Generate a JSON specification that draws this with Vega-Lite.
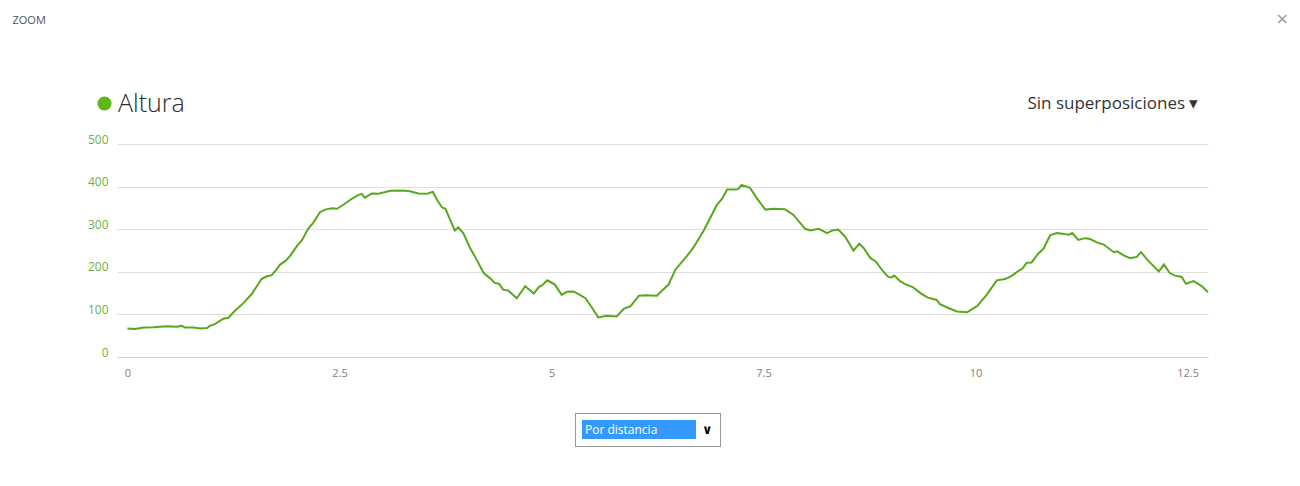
{
  "$schema": "https://vega.github.io/schema/vega-lite/v6.json",
  "width": 1091,
  "height": 213,
  "autosize": {"type": "none"},
  "padding": {"left": 117, "top": 144, "right": 92, "bottom": 129},
  "background": "white",
  "config": {
    "view": {"stroke": null},
    "font": "Open Sans"
  },
  "title": {
    "text": "×",
    "anchor": "end",
    "frame": "group",
    "orient": "top",
    "fontSize": 16,
    "fontWeight": "normal",
    "font": "DejaVu Sans",
    "color": "#9a9a9a",
    "dx": 81,
    "dy": 13,
    "offset": 0
  },
  "data": {
    "values": [
      {"distancia": 0.00, "altura": 67, "serie": "Altura", "vista": "Por distancia"},
      {"distancia": 0.09, "altura": 66, "serie": "Altura", "vista": "Por distancia"},
      {"distancia": 0.19, "altura": 69, "serie": "Altura", "vista": "Por distancia"},
      {"distancia": 0.31, "altura": 70, "serie": "Altura", "vista": "Por distancia"},
      {"distancia": 0.46, "altura": 72, "serie": "Altura", "vista": "Por distancia"},
      {"distancia": 0.58, "altura": 71, "serie": "Altura", "vista": "Por distancia"},
      {"distancia": 0.64, "altura": 73, "serie": "Altura", "vista": "Por distancia"},
      {"distancia": 0.68, "altura": 69, "serie": "Altura", "vista": "Por distancia"},
      {"distancia": 0.78, "altura": 69, "serie": "Altura", "vista": "Por distancia"},
      {"distancia": 0.86, "altura": 67, "serie": "Altura", "vista": "Por distancia"},
      {"distancia": 0.94, "altura": 68, "serie": "Altura", "vista": "Por distancia"},
      {"distancia": 0.97, "altura": 73, "serie": "Altura", "vista": "Por distancia"},
      {"distancia": 1.03, "altura": 77, "serie": "Altura", "vista": "Por distancia"},
      {"distancia": 1.13, "altura": 90, "serie": "Altura", "vista": "Por distancia"},
      {"distancia": 1.19, "altura": 92, "serie": "Altura", "vista": "Por distancia"},
      {"distancia": 1.25, "altura": 105, "serie": "Altura", "vista": "Por distancia"},
      {"distancia": 1.37, "altura": 127, "serie": "Altura", "vista": "Por distancia"},
      {"distancia": 1.47, "altura": 149, "serie": "Altura", "vista": "Por distancia"},
      {"distancia": 1.58, "altura": 183, "serie": "Altura", "vista": "Por distancia"},
      {"distancia": 1.64, "altura": 189, "serie": "Altura", "vista": "Por distancia"},
      {"distancia": 1.70, "altura": 192, "serie": "Altura", "vista": "Por distancia"},
      {"distancia": 1.74, "altura": 201, "serie": "Altura", "vista": "Por distancia"},
      {"distancia": 1.80, "altura": 217, "serie": "Altura", "vista": "Por distancia"},
      {"distancia": 1.86, "altura": 225, "serie": "Altura", "vista": "Por distancia"},
      {"distancia": 1.92, "altura": 238, "serie": "Altura", "vista": "Por distancia"},
      {"distancia": 2.00, "altura": 261, "serie": "Altura", "vista": "Por distancia"},
      {"distancia": 2.06, "altura": 275, "serie": "Altura", "vista": "Por distancia"},
      {"distancia": 2.13, "altura": 301, "serie": "Altura", "vista": "Por distancia"},
      {"distancia": 2.19, "altura": 315, "serie": "Altura", "vista": "Por distancia"},
      {"distancia": 2.27, "altura": 340, "serie": "Altura", "vista": "Por distancia"},
      {"distancia": 2.33, "altura": 346, "serie": "Altura", "vista": "Por distancia"},
      {"distancia": 2.41, "altura": 349, "serie": "Altura", "vista": "Por distancia"},
      {"distancia": 2.47, "altura": 348, "serie": "Altura", "vista": "Por distancia"},
      {"distancia": 2.55, "altura": 358, "serie": "Altura", "vista": "Por distancia"},
      {"distancia": 2.65, "altura": 372, "serie": "Altura", "vista": "Por distancia"},
      {"distancia": 2.72, "altura": 380, "serie": "Altura", "vista": "Por distancia"},
      {"distancia": 2.76, "altura": 383, "serie": "Altura", "vista": "Por distancia"},
      {"distancia": 2.80, "altura": 374, "serie": "Altura", "vista": "Por distancia"},
      {"distancia": 2.88, "altura": 384, "serie": "Altura", "vista": "Por distancia"},
      {"distancia": 2.96, "altura": 383, "serie": "Altura", "vista": "Por distancia"},
      {"distancia": 3.10, "altura": 390, "serie": "Altura", "vista": "Por distancia"},
      {"distancia": 3.25, "altura": 391, "serie": "Altura", "vista": "Por distancia"},
      {"distancia": 3.33, "altura": 389, "serie": "Altura", "vista": "Por distancia"},
      {"distancia": 3.43, "altura": 384, "serie": "Altura", "vista": "Por distancia"},
      {"distancia": 3.53, "altura": 383, "serie": "Altura", "vista": "Por distancia"},
      {"distancia": 3.60, "altura": 388, "serie": "Altura", "vista": "Por distancia"},
      {"distancia": 3.65, "altura": 369, "serie": "Altura", "vista": "Por distancia"},
      {"distancia": 3.71, "altura": 351, "serie": "Altura", "vista": "Por distancia"},
      {"distancia": 3.75, "altura": 348, "serie": "Altura", "vista": "Por distancia"},
      {"distancia": 3.80, "altura": 324, "serie": "Altura", "vista": "Por distancia"},
      {"distancia": 3.86, "altura": 297, "serie": "Altura", "vista": "Por distancia"},
      {"distancia": 3.90, "altura": 304, "serie": "Altura", "vista": "Por distancia"},
      {"distancia": 3.96, "altura": 291, "serie": "Altura", "vista": "Por distancia"},
      {"distancia": 4.04, "altura": 256, "serie": "Altura", "vista": "Por distancia"},
      {"distancia": 4.10, "altura": 235, "serie": "Altura", "vista": "Por distancia"},
      {"distancia": 4.20, "altura": 197, "serie": "Altura", "vista": "Por distancia"},
      {"distancia": 4.28, "altura": 184, "serie": "Altura", "vista": "Por distancia"},
      {"distancia": 4.33, "altura": 174, "serie": "Altura", "vista": "Por distancia"},
      {"distancia": 4.38, "altura": 172, "serie": "Altura", "vista": "Por distancia"},
      {"distancia": 4.43, "altura": 158, "serie": "Altura", "vista": "Por distancia"},
      {"distancia": 4.49, "altura": 156, "serie": "Altura", "vista": "Por distancia"},
      {"distancia": 4.59, "altura": 138, "serie": "Altura", "vista": "Por distancia"},
      {"distancia": 4.69, "altura": 166, "serie": "Altura", "vista": "Por distancia"},
      {"distancia": 4.79, "altura": 149, "serie": "Altura", "vista": "Por distancia"},
      {"distancia": 4.85, "altura": 164, "serie": "Altura", "vista": "Por distancia"},
      {"distancia": 4.90, "altura": 170, "serie": "Altura", "vista": "Por distancia"},
      {"distancia": 4.95, "altura": 180, "serie": "Altura", "vista": "Por distancia"},
      {"distancia": 5.04, "altura": 170, "serie": "Altura", "vista": "Por distancia"},
      {"distancia": 5.12, "altura": 146, "serie": "Altura", "vista": "Por distancia"},
      {"distancia": 5.18, "altura": 153, "serie": "Altura", "vista": "Por distancia"},
      {"distancia": 5.26, "altura": 154, "serie": "Altura", "vista": "Por distancia"},
      {"distancia": 5.34, "altura": 145, "serie": "Altura", "vista": "Por distancia"},
      {"distancia": 5.40, "altura": 138, "serie": "Altura", "vista": "Por distancia"},
      {"distancia": 5.48, "altura": 115, "serie": "Altura", "vista": "Por distancia"},
      {"distancia": 5.55, "altura": 93, "serie": "Altura", "vista": "Por distancia"},
      {"distancia": 5.65, "altura": 97, "serie": "Altura", "vista": "Por distancia"},
      {"distancia": 5.77, "altura": 95, "serie": "Altura", "vista": "Por distancia"},
      {"distancia": 5.85, "altura": 113, "serie": "Altura", "vista": "Por distancia"},
      {"distancia": 5.93, "altura": 119, "serie": "Altura", "vista": "Por distancia"},
      {"distancia": 6.03, "altura": 144, "serie": "Altura", "vista": "Por distancia"},
      {"distancia": 6.12, "altura": 145, "serie": "Altura", "vista": "Por distancia"},
      {"distancia": 6.24, "altura": 144, "serie": "Altura", "vista": "Por distancia"},
      {"distancia": 6.38, "altura": 170, "serie": "Altura", "vista": "Por distancia"},
      {"distancia": 6.46, "altura": 205, "serie": "Altura", "vista": "Por distancia"},
      {"distancia": 6.60, "altura": 238, "serie": "Altura", "vista": "Por distancia"},
      {"distancia": 6.67, "altura": 256, "serie": "Altura", "vista": "Por distancia"},
      {"distancia": 6.79, "altura": 295, "serie": "Altura", "vista": "Por distancia"},
      {"distancia": 6.95, "altura": 357, "serie": "Altura", "vista": "Por distancia"},
      {"distancia": 7.01, "altura": 371, "serie": "Altura", "vista": "Por distancia"},
      {"distancia": 7.07, "altura": 393, "serie": "Altura", "vista": "Por distancia"},
      {"distancia": 7.15, "altura": 393, "serie": "Altura", "vista": "Por distancia"},
      {"distancia": 7.20, "altura": 394, "serie": "Altura", "vista": "Por distancia"},
      {"distancia": 7.24, "altura": 404, "serie": "Altura", "vista": "Por distancia"},
      {"distancia": 7.34, "altura": 397, "serie": "Altura", "vista": "Por distancia"},
      {"distancia": 7.42, "altura": 373, "serie": "Altura", "vista": "Por distancia"},
      {"distancia": 7.52, "altura": 346, "serie": "Altura", "vista": "Por distancia"},
      {"distancia": 7.62, "altura": 348, "serie": "Altura", "vista": "Por distancia"},
      {"distancia": 7.75, "altura": 347, "serie": "Altura", "vista": "Por distancia"},
      {"distancia": 7.85, "altura": 334, "serie": "Altura", "vista": "Por distancia"},
      {"distancia": 7.99, "altura": 301, "serie": "Altura", "vista": "Por distancia"},
      {"distancia": 8.05, "altura": 297, "serie": "Altura", "vista": "Por distancia"},
      {"distancia": 8.15, "altura": 301, "serie": "Altura", "vista": "Por distancia"},
      {"distancia": 8.25, "altura": 291, "serie": "Altura", "vista": "Por distancia"},
      {"distancia": 8.31, "altura": 297, "serie": "Altura", "vista": "Por distancia"},
      {"distancia": 8.38, "altura": 299, "serie": "Altura", "vista": "Por distancia"},
      {"distancia": 8.46, "altura": 283, "serie": "Altura", "vista": "Por distancia"},
      {"distancia": 8.56, "altura": 250, "serie": "Altura", "vista": "Por distancia"},
      {"distancia": 8.63, "altura": 266, "serie": "Altura", "vista": "Por distancia"},
      {"distancia": 8.68, "altura": 256, "serie": "Altura", "vista": "Por distancia"},
      {"distancia": 8.76, "altura": 232, "serie": "Altura", "vista": "Por distancia"},
      {"distancia": 8.82, "altura": 225, "serie": "Altura", "vista": "Por distancia"},
      {"distancia": 8.91, "altura": 201, "serie": "Altura", "vista": "Por distancia"},
      {"distancia": 8.97, "altura": 188, "serie": "Altura", "vista": "Por distancia"},
      {"distancia": 9.01, "altura": 187, "serie": "Altura", "vista": "Por distancia"},
      {"distancia": 9.04, "altura": 191, "serie": "Altura", "vista": "Por distancia"},
      {"distancia": 9.11, "altura": 178, "serie": "Altura", "vista": "Por distancia"},
      {"distancia": 9.17, "altura": 171, "serie": "Altura", "vista": "Por distancia"},
      {"distancia": 9.26, "altura": 164, "serie": "Altura", "vista": "Por distancia"},
      {"distancia": 9.35, "altura": 150, "serie": "Altura", "vista": "Por distancia"},
      {"distancia": 9.43, "altura": 140, "serie": "Altura", "vista": "Por distancia"},
      {"distancia": 9.54, "altura": 134, "serie": "Altura", "vista": "Por distancia"},
      {"distancia": 9.58, "altura": 124, "serie": "Altura", "vista": "Por distancia"},
      {"distancia": 9.68, "altura": 115, "serie": "Altura", "vista": "Por distancia"},
      {"distancia": 9.78, "altura": 107, "serie": "Altura", "vista": "Por distancia"},
      {"distancia": 9.90, "altura": 105, "serie": "Altura", "vista": "Por distancia"},
      {"distancia": 10.02, "altura": 120, "serie": "Altura", "vista": "Por distancia"},
      {"distancia": 10.13, "altura": 146, "serie": "Altura", "vista": "Por distancia"},
      {"distancia": 10.25, "altura": 180, "serie": "Altura", "vista": "Por distancia"},
      {"distancia": 10.35, "altura": 183, "serie": "Altura", "vista": "Por distancia"},
      {"distancia": 10.43, "altura": 191, "serie": "Altura", "vista": "Por distancia"},
      {"distancia": 10.51, "altura": 203, "serie": "Altura", "vista": "Por distancia"},
      {"distancia": 10.55, "altura": 207, "serie": "Altura", "vista": "Por distancia"},
      {"distancia": 10.60, "altura": 221, "serie": "Altura", "vista": "Por distancia"},
      {"distancia": 10.66, "altura": 222, "serie": "Altura", "vista": "Por distancia"},
      {"distancia": 10.74, "altura": 243, "serie": "Altura", "vista": "Por distancia"},
      {"distancia": 10.80, "altura": 254, "serie": "Altura", "vista": "Por distancia"},
      {"distancia": 10.88, "altura": 286, "serie": "Altura", "vista": "Por distancia"},
      {"distancia": 10.96, "altura": 291, "serie": "Altura", "vista": "Por distancia"},
      {"distancia": 11.04, "altura": 289, "serie": "Altura", "vista": "Por distancia"},
      {"distancia": 11.10, "altura": 287, "serie": "Altura", "vista": "Por distancia"},
      {"distancia": 11.14, "altura": 291, "serie": "Altura", "vista": "Por distancia"},
      {"distancia": 11.21, "altura": 275, "serie": "Altura", "vista": "Por distancia"},
      {"distancia": 11.29, "altura": 279, "serie": "Altura", "vista": "Por distancia"},
      {"distancia": 11.35, "altura": 277, "serie": "Altura", "vista": "Por distancia"},
      {"distancia": 11.43, "altura": 269, "serie": "Altura", "vista": "Por distancia"},
      {"distancia": 11.51, "altura": 264, "serie": "Altura", "vista": "Por distancia"},
      {"distancia": 11.63, "altura": 246, "serie": "Altura", "vista": "Por distancia"},
      {"distancia": 11.67, "altura": 248, "serie": "Altura", "vista": "Por distancia"},
      {"distancia": 11.74, "altura": 239, "serie": "Altura", "vista": "Por distancia"},
      {"distancia": 11.82, "altura": 232, "serie": "Altura", "vista": "Por distancia"},
      {"distancia": 11.90, "altura": 235, "serie": "Altura", "vista": "Por distancia"},
      {"distancia": 11.95, "altura": 246, "serie": "Altura", "vista": "Por distancia"},
      {"distancia": 12.04, "altura": 225, "serie": "Altura", "vista": "Por distancia"},
      {"distancia": 12.16, "altura": 201, "serie": "Altura", "vista": "Por distancia"},
      {"distancia": 12.22, "altura": 217, "serie": "Altura", "vista": "Por distancia"},
      {"distancia": 12.29, "altura": 197, "serie": "Altura", "vista": "Por distancia"},
      {"distancia": 12.35, "altura": 191, "serie": "Altura", "vista": "Por distancia"},
      {"distancia": 12.43, "altura": 188, "serie": "Altura", "vista": "Por distancia"},
      {"distancia": 12.48, "altura": 172, "serie": "Altura", "vista": "Por distancia"},
      {"distancia": 12.57, "altura": 178, "serie": "Altura", "vista": "Por distancia"},
      {"distancia": 12.67, "altura": 166, "serie": "Altura", "vista": "Por distancia"},
      {"distancia": 12.74, "altura": 152, "serie": "Altura", "vista": "Por distancia"}
    ]
  },
  "mark": {"type": "line", "strokeWidth": 2, "interpolate": "linear"},
  "encoding": {
    "x": {
      "field": "distancia",
      "type": "quantitative",
      "scale": {"domain": [-0.123, 12.74], "nice": false, "zero": false},
      "axis": {
        "values": [0, 2.5, 5, 7.5, 10, 12.5],
        "format": ".3~g",
        "grid": false,
        "ticks": false,
        "domain": true,
        "domainColor": "#cdd1da",
        "domainWidth": 1,
        "labelColor": "#808080",
        "labelFontSize": 11,
        "labelFont": "Open Sans",
        "labelPadding": 10,
        "labelFlush": false,
        "title": "Sin superposiciones ▾",
        "titleX": 1081,
        "titleY": -254,
        "titleAlign": "right",
        "titleBaseline": "middle",
        "titleFontSize": 17,
        "titleFontWeight": "normal",
        "titleFont": "Open Sans",
        "titleColor": "#333333"
      }
    },
    "y": {
      "field": "altura",
      "type": "quantitative",
      "scale": {"domain": [0, 500], "nice": false},
      "axis": {
        "values": [0, 100, 200, 300, 400, 500],
        "grid": true,
        "gridColor": "#e0e0e0",
        "gridWidth": 1,
        "ticks": false,
        "domain": false,
        "labelColor": "#6fb23f",
        "labelFontSize": 12,
        "labelFont": "Open Sans",
        "labelPadding": 9,
        "labelOffset": -5,
        "title": "ZOOM",
        "titleX": -105,
        "titleY": -124,
        "titleAngle": 0,
        "titleAlign": "left",
        "titleBaseline": "middle",
        "titleFontSize": 11,
        "titleFontWeight": "normal",
        "titleFont": "Open Sans",
        "titleColor": "#555555"
      }
    },
    "color": {
      "field": "serie",
      "type": "nominal",
      "scale": {"range": ["#58a81e"]},
      "legend": {
        "orient": "none",
        "legendX": -25,
        "legendY": -53,
        "title": null,
        "padding": 0,
        "symbolType": "circle",
        "symbolSize": 200,
        "symbolFillColor": "#5cb81a",
        "symbolStrokeColor": "#5cb81a",
        "symbolStrokeWidth": 0,
        "symbolOpacity": 1,
        "labelFont": "Open Sans",
        "labelFontSize": 25,
        "labelFontWeight": 300,
        "labelColor": "#2b2b2b",
        "labelOffset": 1,
        "strokeColor": null
      }
    },
    "opacity": {
      "field": "vista",
      "type": "nominal",
      "scale": {"range": [1]},
      "legend": {
        "orient": "none",
        "legendX": 458,
        "legendY": 269,
        "title": "∨",
        "titleOrient": "right",
        "titleAnchor": "middle",
        "titleBaseline": "middle",
        "titleFont": "DejaVu Sans",
        "titleFontSize": 13,
        "titleFontWeight": "bold",
        "titleColor": "#000000",
        "titlePadding": 6,
        "symbolType": "M-1,-1H11V1H-1Z",
        "symbolSize": 361,
        "symbolFillColor": "#3399ff",
        "symbolStrokeColor": "#3399ff",
        "symbolStrokeWidth": 0,
        "labelColor": "#ffffff",
        "labelFont": "Open Sans",
        "labelFontSize": 12,
        "labelOffset": -16,
        "fillColor": "#ffffff",
        "strokeColor": "#333333",
        "padding": 7,
        "encode": {"legend": {"update": {"strokeDash": {"value": [1, 1]}}}}
      }
    }
  }
}
